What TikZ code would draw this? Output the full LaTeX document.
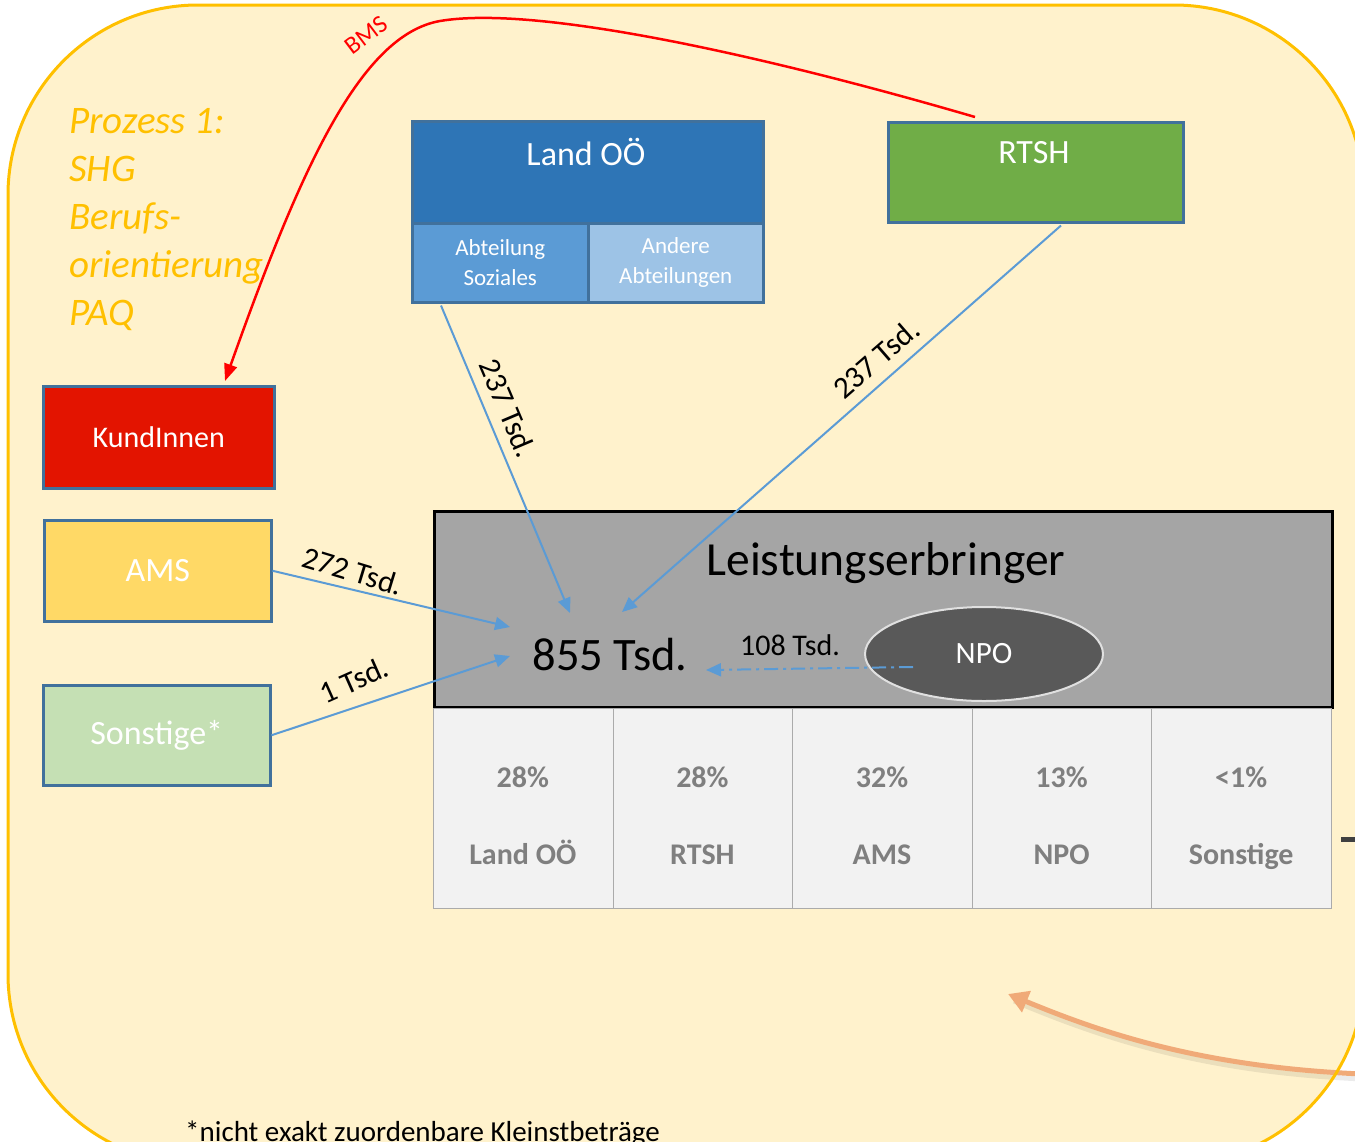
\documentclass[tikz,border=0pt]{standalone}
\usepackage{fontspec}
\setmainfont{Carlito}
\usetikzlibrary{arrows.meta,shapes.geometric,calc}
\definecolor{bgfill}{HTML}{FFF2CC}
\definecolor{bgline}{HTML}{FFC000}
\definecolor{landdark}{HTML}{2E75B6}
\definecolor{landmid}{HTML}{5B9BD5}
\definecolor{landlight}{HTML}{9DC3E6}
\definecolor{boxline}{HTML}{41719C}
\definecolor{rtshgreen}{HTML}{70AD47}
\definecolor{kundred}{HTML}{E31400}
\definecolor{amsyellow}{HTML}{FFD966}
\definecolor{sonstgreen}{HTML}{C5E0B4}
\definecolor{leistgrey}{HTML}{A5A5A5}
\definecolor{npogrey}{HTML}{595959}
\definecolor{cellfill}{HTML}{F2F2F2}
\definecolor{cellline}{HTML}{ABABAB}
\definecolor{celltext}{HTML}{7F7F7F}
\definecolor{flowblue}{HTML}{5B9BD5}
\definecolor{orangearrow}{HTML}{F0AA78}
\definecolor{darkbar}{HTML}{404040}
\begin{document}
\begin{tikzpicture}[x=1pt,y=-1pt,
  box/.style={draw=boxline, line width=2.5, inner sep=0, text=white, align=center, anchor=north west},
  wlabel/.style={text=white, inner sep=0},
  cell/.style={draw=cellline, line width=1, fill=cellfill, anchor=north west, minimum width=179.6, minimum height=200, inner sep=0},
  celltxt/.style={text=celltext, font=\fontsize{30}{36}\selectfont\bfseries, anchor=base, inner sep=0},
  flow/.style={draw=flowblue, line width=2, -{Triangle[length=15,width=13]}},
  amount/.style={font=\fontsize{31}{36}\selectfont, inner sep=0},
]
\useasboundingbox (0,0) rectangle (1355,1141);
\begin{scope}
\clip (0,0) rectangle (1355,1141);
\fill[bgfill] (8,5) [rounded corners=190] rectangle (1364,1164);
\coordinate (oStart) at (1362,1074);
\coordinate (oEnd) at (1008,994);
\draw[line width=5, black, opacity=0.08] ($(oStart)+(2,5)$) .. controls (1200,1072) and (1100,1037) .. ($(oEnd)+(6,7)$);
\draw[line width=5, orangearrow, -{Triangle[length=20,width=22]}] (oStart) .. controls (1200,1067) and (1100,1032) .. (oEnd);
\draw[bgline, line width=3] (8,5) [rounded corners=190] rectangle (1364,1164);
\draw[line width=5, darkbar] (1341,839) -- (1356,839);
\end{scope}

% process text
\node[anchor=north west, inner sep=0, align=left, text=bgline, font=\fontsize{39}{48}\selectfont\itshape] (proc) at (69,108)
  {Prozess 1:\\SHG\\Berufs-\\orientierung\\PAQ};

% Land OOe
\node[box, fill=landdark, minimum width=351, minimum height=102] (land) at (411,120) {};
\node[wlabel, font=\fontsize{34}{40}\selectfont] (landlbl) at (586,152) {Land OÖ};
\node[box, fill=landmid, minimum width=176, minimum height=79, font=\fontsize{23}{30}\selectfont] (soz) at (411,222) {Abteilung\\Soziales};
\node[box, fill=landlight, minimum width=175, minimum height=79, font=\fontsize{23}{30}\selectfont] (andere) at (587,222) {Andere\\Abteilungen};

% RTSH
\node[box, fill=rtshgreen, minimum width=295, minimum height=100] (rtsh) at (887,121) {};
\node[wlabel, font=\fontsize{34}{40}\selectfont] (rtshlbl) at (1034,153) {RTSH};

% left boxes
\node[box, fill=kundred, minimum width=231, minimum height=102, font=\fontsize{30}{36}\selectfont] (kund) at (42,385) {KundInnen};
\node[box, fill=amsyellow, minimum width=227, minimum height=101, font=\fontsize{34}{40}\selectfont] (ams) at (43,519) {AMS};
\node[box, fill=sonstgreen, minimum width=227, minimum height=100, font=\fontsize{34}{40}\selectfont] (sonst) at (42,684) {Sonstige*};

% Leistungserbringer
\node[draw=black, line width=3, fill=leistgrey, anchor=north west, minimum width=898, minimum height=196, inner sep=0] (leist) at (433,510) {};
\node[inner sep=0, font=\fontsize{47.5}{54}\selectfont] (leistlbl) at (886,563) {Leistungserbringer};
\node[inner sep=0, font=\fontsize{46.5}{52}\selectfont] (total) at (610,655) {855 Tsd.};
\node[ellipse, draw=black!12, line width=2, fill=npogrey, minimum width=238, minimum height=94, inner sep=0, text=white, font=\fontsize{31}{36}\selectfont] (npo) at (984,654) {NPO};
\node[inner sep=0, font=\fontsize{30}{36}\selectfont] (npoamt) at (790,645) {108 Tsd.};

% table
\node[cell] (c1) at (433,708) {};
\node[cell] (c2) at (612.6,708) {};
\node[cell] (c3) at (792.2,708) {};
\node[cell] (c4) at (971.8,708) {};
\node[cell] (c5) at (1151.4,708) {};
\node[celltxt] (p1) at (522.8,787) {28\%};
\node[celltxt] (p2) at (702.4,787) {28\%};
\node[celltxt] (p3) at (882,787) {32\%};
\node[celltxt] (p4) at (1061.6,787) {13\%};
\node[celltxt] (p5) at (1241.2,787) {<1\%};
\node[celltxt] (n1) at (522.8,864) {Land OÖ};
\node[celltxt] (n2) at (702.4,864) {RTSH};
\node[celltxt] (n3) at (882,864) {AMS};
\node[celltxt] (n4) at (1061.6,864) {NPO};
\node[celltxt] (n5) at (1241.2,864) {Sonstige};

% flows
\coordinate (s1) at ($(soz.south west)+(30,2)$);
\coordinate (e1) at (570,613);
\draw[flow] (s1) -- (e1);
\node[amount, rotate=-67] (l1) at (508,408) {237 Tsd.};

\coordinate (s2) at ($(rtsh.south west)+(174,2)$);
\coordinate (e2) at (622,612);
\draw[flow] (s2) -- (e2);
\node[amount, rotate=41] (l2) at (876,359) {237 Tsd.};

\coordinate (e3) at (510,627);
\draw[flow] (ams.east) -- (e3);
\node[amount, rotate=-17] (l3) at (353,571) {272 Tsd.};

\coordinate (e4) at (510,656);
\draw[flow] (sonst.east) -- (e4);
\node[amount, rotate=24] (l4) at (354,680) {1 Tsd.};

\coordinate (s5) at ($(npo.center)+(-71,13)$);
\coordinate (e5) at (706,670);
\draw[flow, dash pattern=on 14pt off 5pt on 3pt off 5pt] (s5) -- (e5);

% BMS red
\coordinate (r0) at ($(rtsh.north west)+(88,-4)$);
\coordinate (rm) at (440,21);
\coordinate (r1) at ($(kund.north west)+(183,-4)$);
\draw[red, line width=2.5, -{Triangle[length=17,width=13]}] (r0) .. controls (780,60) and (540,4) .. (rm) .. controls (360,35) and (300,170) .. (r1);
\node[text=red, inner sep=0, rotate=37, font=\fontsize{25}{30}\selectfont] (bms) at (366,35) {BMS};

% footnote
\node[anchor=base west, inner sep=0, font=\fontsize{29}{34}\selectfont] (foot) at (185,1141) {*nicht exakt zuordenbare Kleinstbeträge};
\end{tikzpicture}
\end{document}
